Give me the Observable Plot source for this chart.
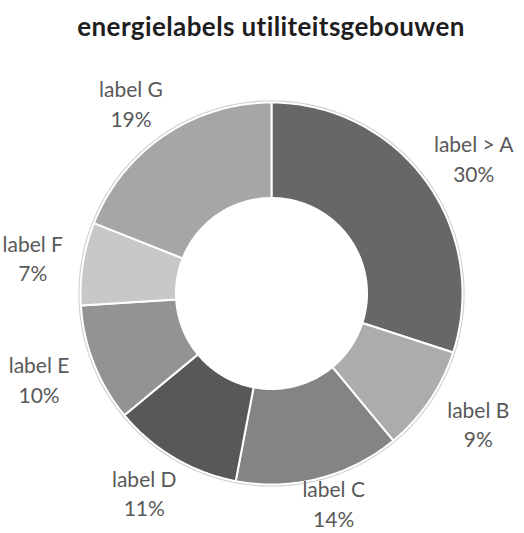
<!DOCTYPE html>
<html>
<head>
<meta charset="utf-8">
<script src="https://cdn.jsdelivr.net/npm/d3@7"></script>
<script src="https://cdn.jsdelivr.net/npm/@observablehq/plot@0.6"></script>
<style>
  html, body { margin: 0; padding: 0; background: #fff; }
  #title { height: 52px; line-height: 52px; text-align: center; font-family: Lato, sans-serif; font-weight: bold; font-size: 26px; letter-spacing: 0.4px; color: #1e1e1e; width: 524px; padding-left: 18px; box-sizing: border-box; white-space: nowrap; }
  svg { display: block; }
</style>
</head>
<body>
<div id="title"></div>
<div id="chart"></div>
<script>
const chartTitle = "energielabels utiliteitsgebouwen";
const labels = ["label > A", "label B", "label C", "label D", "label E", "label F", "label G"];
const values = [30, 9, 14, 11, 10, 7, 19];
const colors = ["#666769", "#abacae", "#838486", "#58585a", "#929395", "#c7c8ca", "#a5a6a8"];

document.getElementById("title").textContent = chartTitle;

const W = 524, H = 481;
const cx = 271, cy = 241, K = 191;   // centre (px) and outer radius (px)
const inner = 0.5;                   // hole size as fraction of outer radius
const fontSize = 21, lineH = 1.4;
const total = d3.sum(values);

const ctx = document.createElement("canvas").getContext("2d");
ctx.font = `${fontSize}px Lato`;

const pts = [];
const slices = [];
let acc = 0;
labels.forEach((lab, i) => {
  const a0 = acc / total * 2 * Math.PI;
  acc += values[i];
  const a1 = acc / total * 2 * Math.PI;
  const n = Math.max(2, Math.ceil((a1 - a0) / (Math.PI / 180)));
  const ring = [];
  for (let k = 0; k <= n; k++) {
    const a = a0 + (a1 - a0) * k / n;
    ring.push({label: lab, x: Math.sin(a), y: Math.cos(a)});
  }
  for (let k = n; k >= 0; k--) {
    const a = a0 + (a1 - a0) * k / n;
    ring.push({label: lab, x: inner * Math.sin(a), y: inner * Math.cos(a)});
  }
  ring.push({...ring[0]});
  pts.push(...ring);
  // label placed outside along mid-angle, then kept inside the chart area
  const m = (a0 + a1) / 2;
  const text = `${lab}\n${values[i]}%`;
  const hw = Math.max(ctx.measureText(lab).width, ctx.measureText(values[i] + "%").width) / 2;
  const hh = fontSize * lineH;
  let px = cx + 250 * Math.sin(m);
  let py = cy - 231 * Math.cos(m);
  px = Math.min(Math.max(px, hw + 2), W - hw - 2);
  py = Math.min(Math.max(py, hh * 0.5), H - hh * 1.05);
  slices.push({text, x: (px - cx) / K, y: (cy - py) / K});
});

const outline = d3.range(0, 361).map(d => ({x: 1.006 * Math.sin(d * Math.PI / 180), y: 1.006 * Math.cos(d * Math.PI / 180)}));

const plot = Plot.plot({
  width: W,
  height: H,
  margin: 0,
  x: {domain: [-cx / K, (W - cx) / K], axis: null},
  y: {domain: [-(H - cy) / K, cy / K], axis: null},
  color: {domain: labels, range: colors},
  style: {fontFamily: "Lato, sans-serif", background: "#fff"},
  marks: [
    Plot.line(outline, {x: "x", y: "y", stroke: "#d2d2d2", strokeWidth: 2}),
    Plot.line(pts, {x: "x", y: "y", z: "label", fill: "label", stroke: "#ffffff", strokeWidth: 2, strokeLinejoin: "round"}),
    Plot.text(slices, {x: "x", y: "y", text: "text", fontSize, lineHeight: lineH, fill: "#595959", textAnchor: "middle"})
  ]
});
document.getElementById("chart").appendChild(plot);
</script>
</body>
</html>
